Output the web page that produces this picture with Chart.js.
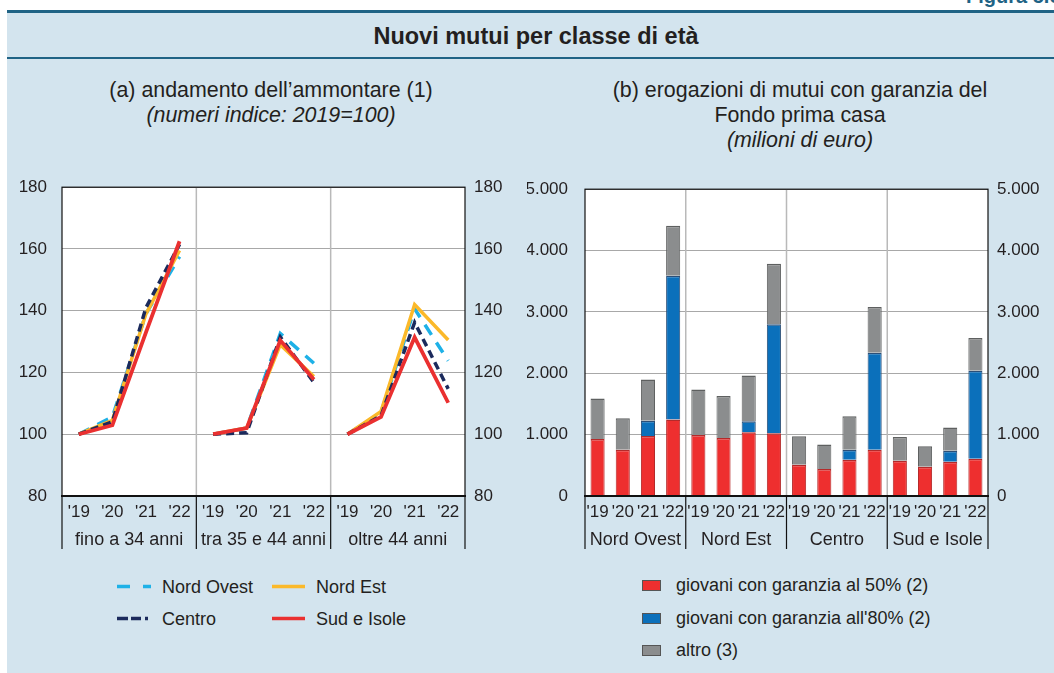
<!DOCTYPE html>
<html lang="it">
<head>
<meta charset="utf-8">
<script src="https://cdn.jsdelivr.net/npm/chart.js@4.4.1/dist/chart.umd.min.js"></script>
<style>
  html,body{margin:0;padding:0;background:#fff;}
  body{width:1054px;height:673px;position:relative;overflow:hidden;font-family:"Liberation Sans",Arial,sans-serif;color:#231f20;}
  #panel{position:absolute;left:7px;top:10px;width:1047px;height:663px;background:#d3e4ee;border-top:3px solid #1f6385;box-sizing:border-box;}
  #titlebar{position:absolute;left:7px;top:57px;width:1047px;height:2px;background:#1f6385;}
  .t{position:absolute;white-space:nowrap;}
  #title{left:536px;top:36px;transform:translate(-50%,-50%);font-weight:bold;font-size:23.5px;}
  #fig{left:966px;top:-15px;font-weight:bold;font-size:20px;color:#1f6385;}
  .sub{font-size:21.4px;transform:translate(-50%,-50%);}
  .it{font-style:italic;}
  canvas{position:absolute;}
  .lg{position:absolute;font-size:18px;line-height:18px;white-space:nowrap;transform:translateY(-50%);}
  .sw{position:absolute;}
  .sq{position:absolute;width:17px;height:9px;border:1px solid #555;}
</style>
</head>
<body>
<div id="panel"></div>
<div id="titlebar"></div>
<div class="t" id="fig">Figura 5.6</div>
<div class="t" id="title">Nuovi mutui per classe di età</div>

<div class="t sub" style="left:271px;top:90px;">(a) andamento dell’ammontare (1)</div>
<div class="t sub it" style="left:271px;top:115px;">(numeri indice: 2019=100)</div>
<div class="t sub" style="left:800px;top:90px;">(b) erogazioni di mutui con garanzia del</div>
<div class="t sub" style="left:800px;top:115px;">Fondo prima casa</div>
<div class="t sub it" style="left:800px;top:140px;">(milioni di euro)</div>

<canvas id="c1" width="527" height="398" style="left:0;top:162px;width:527px;height:398px;"></canvas>
<canvas id="c2" width="527" height="398" style="left:527px;top:162px;width:527px;height:398px;"></canvas>

<!-- legend (a) -->
<svg class="sw" style="left:117px;top:583px" width="34" height="7"><line x1="0" y1="3.5" x2="34" y2="3.5" stroke="#1eb1e7" stroke-width="3.5" stroke-dasharray="13 13"/></svg>
<div class="lg" style="left:162px;top:587px;">Nord Ovest</div>
<svg class="sw" style="left:272px;top:583px" width="33" height="7"><line x1="0" y1="3.5" x2="33" y2="3.5" stroke="#fbb92a" stroke-width="3.5"/></svg>
<div class="lg" style="left:316px;top:587px;">Nord Est</div>
<svg class="sw" style="left:117px;top:615px" width="34" height="7"><line x1="0" y1="3.5" x2="34" y2="3.5" stroke="#1b2a5c" stroke-width="3.5" stroke-dasharray="11 3 10 4 3 10"/></svg>
<div class="lg" style="left:162px;top:619px;">Centro</div>
<svg class="sw" style="left:272px;top:615px" width="33" height="7"><line x1="0" y1="3.5" x2="33" y2="3.5" stroke="#ea3030" stroke-width="3.5"/></svg>
<div class="lg" style="left:316px;top:619px;">Sud e Isole</div>

<!-- legend (b) -->
<div class="sq" style="left:642px;top:580px;background:#ee2f2f;"></div>
<div class="lg" style="left:676px;top:585px;">giovani con garanzia al 50% (2)</div>
<div class="sq" style="left:642px;top:613px;background:#0b70bb;"></div>
<div class="lg" style="left:676px;top:618px;">giovani con garanzia all'80% (2)</div>
<div class="sq" style="left:642px;top:645px;background:#8b8d8e;"></div>
<div class="lg" style="left:676px;top:650px;">altro (3)</div>

<script>
// ---------- DATA ----------
const years = ["'19", "'20", "'21", "'22"];
const ageGroups = ['fino a 34 anni', 'tra 35 e 44 anni', 'oltre 44 anni'];
const regions = ['Nord Ovest', 'Nord Est', 'Centro', 'Sud e Isole'];

// (a) index numbers, 2019=100, by age group ('19..'22 for each group)
const nordOvest = [100, 105.6, 139, 157.5,   100, 102, 132.6, 123,   100, 107, 140.6, 123.8];
const nordEst   = [100, 104.5, 139, 159.5,   100, 102, 129, 118.7,   100, 107.4, 142, 130.5];
const centro    = [100, 104, 141, 161.5,     100, 100.5, 131.5, 116.8, 100, 106, 136.2, 114.7];
const sudIsole  = [100, 102.9, 133, 162.5,   100, 102, 130.4, 117.7, 100, 105.6, 131.4, 110.2];

// (b) millions of euro, by region ('19..'22 for each region)
const garanzia50 = [930, 753, 978, 1247,   995, 946, 1038, 1022,   511, 441, 591, 753,   575, 478, 559, 608];
const garanzia80 = [0, 0, 248, 2344,       0, 0, 182, 1779,        0, 0, 162, 1580,      0, 0, 178, 1435];
const altro      = [661, 516, 672, 812,    742, 683, 742, 984,     462, 398, 548, 748,   387, 334, 381, 532];

const yTicksA = [80, 100, 120, 140, 160, 180];
const yTicksB = [0, 1000, 2000, 3000, 4000, 5000];

// ---------- HELPERS ----------
const FONT = '"Liberation Sans", Arial, sans-serif';
const TXT = '#231f20';
Chart.defaults.font.family = FONT;
Chart.defaults.color = TXT;

function groupPlugin(groupNames, perGroup) {
  return {
    id: 'groups',
    beforeDraw(chart) {
      const a = chart.chartArea, c = chart.ctx;
      c.save(); c.fillStyle = '#ffffff';
      c.fillRect(a.left, a.top, a.right - a.left, a.bottom - a.top);
      c.restore();
    },
    beforeDatasetsDraw(chart) {
      const a = chart.chartArea, c = chart.ctx, xs = chart.scales.x;
      c.save(); c.strokeStyle = '#b9b9b9'; c.lineWidth = 1.5;
      for (let g = 1; g < groupNames.length; g++) {
        const px = (xs.getPixelForTick(g * perGroup - 1) + xs.getPixelForTick(g * perGroup)) / 2;
        c.beginPath(); c.moveTo(px, a.top); c.lineTo(px, a.bottom); c.stroke();
      }
      c.restore();
    },
    afterDraw(chart) {
      const a = chart.chartArea, c = chart.ctx, xs = chart.scales.x;
      c.save();
      c.strokeStyle = '#111'; c.lineWidth = 1.2;
      c.strokeRect(a.left, a.top, a.right - a.left, a.bottom - a.top);
      c.lineWidth = 2;
      c.beginPath(); c.moveTo(a.left - 1, a.bottom); c.lineTo(a.right + 1, a.bottom); c.stroke();
      c.lineWidth = 1.2;
      const bounds = [a.left];
      for (let g = 1; g < groupNames.length; g++) {
        bounds.push((xs.getPixelForTick(g * perGroup - 1) + xs.getPixelForTick(g * perGroup)) / 2);
      }
      bounds.push(a.right);
      bounds.forEach(px => { c.beginPath(); c.moveTo(px, a.bottom); c.lineTo(px, a.bottom + 53); c.stroke(); });
      c.fillStyle = TXT; c.font = '18px ' + FONT; c.textAlign = 'center'; c.textBaseline = 'middle';
      groupNames.forEach((n, g) => {
        c.fillText(n, (bounds[g] + bounds[g + 1]) / 2, a.bottom + 44);
      });
      c.restore();
    }
  };
}

function fixW(w) { return s => { s.width = w; }; }
function fixH(h) { return s => { s.height = h; }; }

// ---------- CHART (a) ----------
const lineLabels = ageGroups.flatMap(() => years);
const gapSeg = ctx => (ctx.p0DataIndex % years.length === years.length - 1) ? 'rgba(0,0,0,0)' : undefined;

function lineDs(label, data, color, dash, width, order) {
  return {
    label, data, borderColor: color, backgroundColor: color, borderWidth: width,
    borderDash: dash, pointRadius: 0, pointHoverRadius: 0, tension: 0, order,
    borderCapStyle: 'butt', segment: { borderColor: gapSeg }
  };
}

new Chart(document.getElementById('c1'), {
  type: 'line',
  data: {
    labels: lineLabels,
    datasets: [
      lineDs('Nord Ovest', nordOvest, '#1eb1e7', [12, 9], 3.5, 3),
      lineDs('Nord Est', nordEst, '#fbb92a', [], 3.5, 2),
      lineDs('Centro', centro, '#1b2a5c', [8, 5], 3.5, 1),
      lineDs('Sud e Isole', sudIsole, '#ea3030', [], 3.8, 0)
    ]
  },
  options: {
    responsive: false, animation: false, devicePixelRatio: 1,
    layout: { padding: { top: 9, left: 0, right: 0, bottom: 0 } },
    plugins: { legend: { display: false }, tooltip: { enabled: false } },
    scales: {
      x: {
        type: 'category', offset: true, afterFit: fixH(64),
        grid: { display: false, drawTicks: false }, border: { display: false },
        ticks: { autoSkip: false, maxRotation: 0, padding: 6, font: { size: 17 }, color: TXT }
      },
      y: {
        position: 'left', min: 80, max: 180, afterFit: fixW(62),
        afterBuildTicks: s => { s.ticks = yTicksA.map(v => ({ value: v })); },
        grid: { color: '#a8a8a8', lineWidth: 1, drawTicks: false }, border: { display: false },
        ticks: { padding: 15, font: { size: 17 }, color: TXT }
      },
      y2: {
        position: 'right', min: 80, max: 180, afterFit: fixW(62),
        afterBuildTicks: s => { s.ticks = yTicksA.map(v => ({ value: v })); },
        grid: { display: false, drawTicks: false }, border: { display: false },
        ticks: { padding: 9, font: { size: 17 }, color: TXT }
      }
    }
  },
  plugins: [groupPlugin(ageGroups, years.length)]
});

// ---------- CHART (b) ----------
const barLabels = regions.flatMap(() => years);
const fmt = v => v.toLocaleString('it-IT');
function barDs(label, data, color, edge) {
  return {
    label, data, backgroundColor: color, borderColor: edge,
    borderWidth: ctx => (ctx.raw ? { top: 1.5, left: 1, right: 1, bottom: 0 } : 0),
    borderSkipped: false,
    barPercentage: 0.56, categoryPercentage: 1, stack: 's'
  };
}

new Chart(document.getElementById('c2'), {
  type: 'bar',
  data: {
    labels: barLabels,
    datasets: [
      barDs('giovani con garanzia al 50% (2)', garanzia50, '#ee2f2f', '#b42a2a'),
      barDs("giovani con garanzia all'80% (2)", garanzia80, '#0b70bb', '#2a4f78'),
      barDs('altro (3)', altro, '#8b8d8e', '#5e6060')
    ]
  },
  options: {
    responsive: false, animation: false, devicePixelRatio: 1,
    layout: { padding: { top: 9, left: 0, right: 0, bottom: 0 } },
    plugins: { legend: { display: false }, tooltip: { enabled: false } },
    scales: {
      x: {
        type: 'category', stacked: true, afterFit: fixH(64),
        grid: { display: false, drawTicks: false }, border: { display: false },
        ticks: { autoSkip: false, maxRotation: 0, padding: 6, font: { size: 17 }, color: TXT }
      },
      y: {
        stacked: true, position: 'left', min: 0, max: 5000, afterFit: fixW(58),
        afterBuildTicks: s => { s.ticks = yTicksB.map(v => ({ value: v })); },
        grid: { color: '#a8a8a8', lineWidth: 1, drawTicks: false }, border: { display: false },
        ticks: { padding: 17, font: { size: 17 }, color: TXT, callback: v => fmt(v) }
      },
      y2: {
        position: 'right', min: 0, max: 5000, afterFit: fixW(66),
        afterBuildTicks: s => { s.ticks = yTicksB.map(v => ({ value: v })); },
        grid: { display: false, drawTicks: false }, border: { display: false },
        ticks: { padding: 9, font: { size: 17 }, color: TXT, callback: v => fmt(v) }
      }
    }
  },
  plugins: [groupPlugin(regions, years.length)]
});
</script>
</body>
</html>
